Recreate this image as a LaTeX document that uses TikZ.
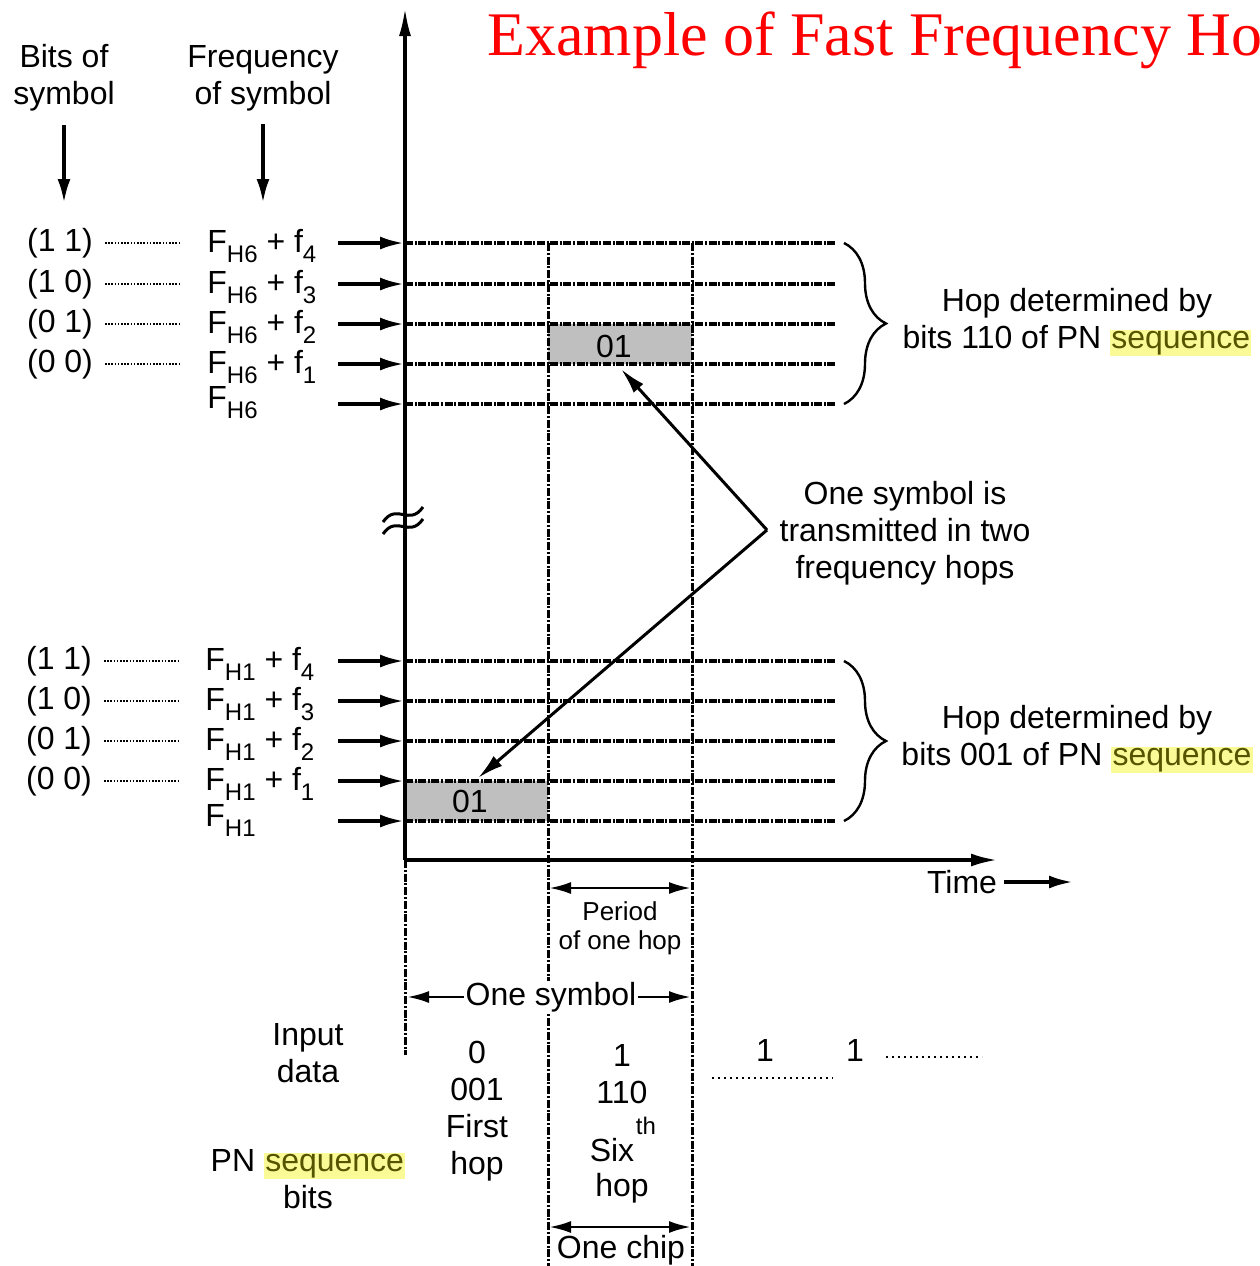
\documentclass[tikz,border=0pt]{standalone}
\usepackage{fontspec}
\setmainfont{Liberation Sans}
\newfontfamily\titlefont{Liberation Serif}
\usetikzlibrary{arrows.meta,decorations.pathreplacing}
\definecolor{hlbg}{RGB}{250,250,150}
\definecolor{hlfg}{RGB}{85,85,0}
\newcommand\sbs[1]{\raisebox{-5pt}{\fontsize{12}{12}\selectfont #1}}
\newcommand\hlseq{{\setlength{\fboxsep}{0.6pt}\colorbox{hlbg}{\textcolor{hlfg}{sequence}}}}
\begin{document}
\begin{tikzpicture}[x=0.5pt,y=-0.5pt,
  txt/.style={font=\fontsize{16}{18.5}\selectfont, inner sep=0.5pt, align=center},
  small/.style={font=\fontsize{13}{14.5}\selectfont, inner sep=0.5pt, align=center},
  axisline/.style={line width=1.6pt},
  gridline/.style={line width=1.8pt, dash pattern=on 4pt off 0.8pt on 1pt off 0.8pt},
  vline/.style={line width=1.5pt, dash pattern=on 4pt off 0.9pt on 1pt off 0.9pt},
  dotline/.style={line width=0.9pt, dash pattern=on 0.8pt off 0.8pt},
  bigdots/.style={line width=1.3pt, dash pattern=on 1.2pt off 1.8pt},
  inarrow/.style={line width=1.8pt, -{Latex[length=12pt,width=6.5pt]}},
  ptarrow/.style={line width=1.5pt, -{Latex[length=13pt,width=6.5pt]}},
  dimarrow/.style={line width=1.4pt, {Latex[length=11pt,width=6pt]}-{Latex[length=11pt,width=6pt]}},
  leftarrow/.style={line width=1.4pt, -{Latex[length=11pt,width=6pt]}},
  shade/.style={fill=black!25, draw=none},
  bracestyle/.style={line width=1.2pt, decorate, decoration={brace, amplitude=21pt}}
]
\useasboundingbox (0,0) rectangle (1260,1266);

% title
\node[anchor=base west, inner sep=0pt, text=red, font=\titlefont\fontsize{31}{31}\selectfont] (title) at (487,55) {Example of Fast Frequency Hopping};

% shaded boxes
\fill[shade] (548,324) rectangle (692,364);
\fill[shade] (405,781) rectangle (548,821);
\node[txt] (b01top) at (614,346) {01};
\node[txt] (b01bot) at (470,801) {01};

% column headers
\node[txt] (bitshead) at (64,78) {Bits of\\symbol};
\node[txt] (freqhead) at (263,78) {Frequency\\of symbol};
\coordinate (bitsarr) at (64,203);
\coordinate (freqarr) at (263,203);
\draw[inarrow] ([yshift=-6pt]bitshead.south) -- (bitsarr);
\draw[inarrow] ([yshift=-6pt]freqhead.south) -- (freqarr);

% vertical axis
\coordinate (axtop) at (405,8);
\coordinate (axorigin) at (405,860);
\coordinate (axbottom) at (405,1055);
\draw[axisline, -{Latex[length=14pt,width=6pt]}] (axorigin) -- (axtop);
\draw[vline] (axorigin) -- (axbottom);
% break mark
\draw[line width=1.5pt] (383,522) .. controls (397,502) and (409,527) .. (423,507);
\draw[line width=1.5pt] (383,534) .. controls (397,514) and (409,539) .. (423,519);

% time axis
\coordinate (timeend) at (997,860);
\draw[axisline, -{Latex[length=13pt,width=6.5pt]}] (axorigin) -- (timeend);
\node[txt] (timelbl) at (962,882) {Time};
\coordinate (timearr) at (1073,882);
\draw[inarrow] ([xshift=3pt]timelbl.east) -- (timearr);

% vertical dashed lines
\coordinate (v1top) at (548,243);
\coordinate (v1bot) at (548,1266);
\coordinate (v2top) at (692,243);
\coordinate (v2bot) at (692,1266);
\draw[vline] (v1top) -- (v1bot);
\draw[vline] (v2top) -- (v2bot);

% top group rows
\foreach \y/\b/\f [count=\i] in {243/{(1 1)}/4, 284/{(1 0)}/3, 324/{(0 1)}/2, 364/{(0 0)}/1} {
  \node[txt] (tb\i) at (60,\y) {\b};
  \coordinate (tdl\i) at (105,\y);
  \coordinate (tdr\i) at (180,\y);
  \draw[dotline] (tdl\i) -- (tdr\i);
  \node[txt, anchor=base west, inner sep=0pt] (tf\i) at (207,{\y+9}) {F\sbs{H6} + f\sbs{\f}};
}
\node[txt, anchor=base west, inner sep=0pt] (tf5) at (207,408) {F\sbs{H6}};
\foreach \y [count=\i] in {243,284,324,364,404} {
  \coordinate (ta\i) at (338,\y);
  \coordinate (tl\i) at (404,\y);
  \coordinate (tL\i) at (405,\y);
  \coordinate (tr\i) at (836,\y);
  \draw[gridline] (tL\i) -- (tr\i);
  \draw[inarrow] (ta\i) -- (tl\i);
}

% bottom group rows
\foreach \y/\b/\f [count=\i] in {661/{(1 1)}/4, 701/{(1 0)}/3, 741/{(0 1)}/2, 781/{(0 0)}/1} {
  \node[txt] (bb\i) at (59,\y) {\b};
  \coordinate (bdl\i) at (104,\y);
  \coordinate (bdr\i) at (179,\y);
  \draw[dotline] (bdl\i) -- (bdr\i);
  \node[txt, anchor=base west, inner sep=0pt] (bf\i) at (205,{\y+9}) {F\sbs{H1} + f\sbs{\f}};
}
\node[txt, anchor=base west, inner sep=0pt] (bf5) at (205,826) {F\sbs{H1}};
\foreach \y [count=\i] in {661,701,741,781,821} {
  \coordinate (ba\i) at (338,\y);
  \coordinate (bl\i) at (404,\y);
  \coordinate (bL\i) at (405,\y);
  \coordinate (br\i) at (836,\y);
  \draw[gridline] (bL\i) -- (br\i);
  \draw[inarrow] (ba\i) -- (bl\i);
}

% braces
\coordinate (brt1) at (844,243);
\coordinate (brt2) at (844,404);
\coordinate (brb1) at (844,661);
\coordinate (brb2) at (844,821);
\draw[bracestyle] (brt1) -- (brt2);
\draw[bracestyle] (brb1) -- (brb2);
\node[txt] (hoptop) at (1077,322) {Hop determined by\\bits 110 of PN \hlseq};
\node[txt] (hopbot) at (1077,739) {Hop determined by\\bits 001 of PN \hlseq};

% zigzag
\coordinate (vtx) at (767,530);
\coordinate (tiptop) at (621,369);
\coordinate (tipbot) at (478,778);
\draw[ptarrow] (vtx) -- (tiptop);
\draw[ptarrow] (vtx) -- (tipbot);
\node[txt] (onesymlbl) at (905,533) {One symbol is\\transmitted in two\\frequency hops};

% period of one hop
\coordinate (perL) at (549,888);
\coordinate (perR) at (691,888);
\draw[dimarrow] (perL) -- (perR);
\node[small] (perlbl) at (620,928) {Period\\of one hop};

% one symbol
\node[txt, fill=white] (symlbl) at (551,997) {One symbol};
\coordinate (symL) at (407,997);
\coordinate (symR) at (691,997);
\draw[leftarrow] (symlbl.west) -- (symL);
\draw[leftarrow] (symlbl.east) -- (symR);

% bottom texts
\node[txt] (inputlbl) at (308,1053) {Input\\data};
\node[txt] (pnlbl) at (308,1179) {PN \hlseq\\bits};
\node[txt] (col1) at (477,1111) {0\\001\\First\\hop};
\node[txt] (col2) at (622,1074) {1\\110};
\node[txt] (sixlbl) at (612,1150) {Six};
\node[txt, font=\fontsize{12}{12}\selectfont] (thlbl) at (646,1126) {th};
\node[txt] (hop2) at (622,1188) {hop};
\node[txt] (one3) at (765,1050) {1};
\node[txt] (one4) at (855,1050) {1};
\coordinate (d3l) at (712,1078);
\coordinate (d3r) at (833,1078);
\coordinate (d4l) at (886,1057);
\coordinate (d4r) at (982,1057);
\draw[bigdots] (d3l) -- (d3r);
\draw[bigdots] (d4l) -- (d4r);

% one chip
\coordinate (chipL) at (549,1227);
\coordinate (chipR) at (691,1227);
\draw[dimarrow] (chipL) -- (chipR);
\node[txt] (chiplbl) at (621,1250) {One chip};
\end{tikzpicture}
\end{document}
